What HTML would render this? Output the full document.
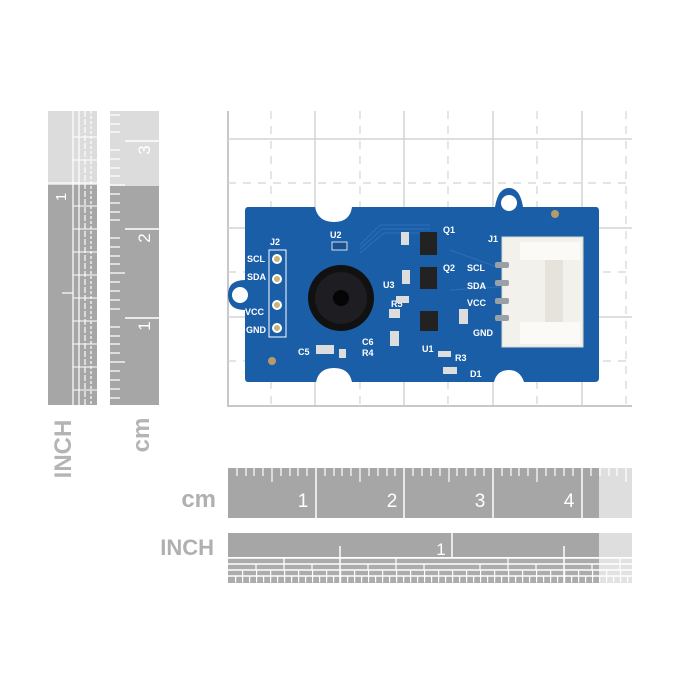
<!DOCTYPE html>
<html><head><style>
html,body{margin:0;padding:0;background:#fff;}
svg{display:block;}
text{font-family:"Liberation Sans",sans-serif;}
</style></head><body>
<svg width="700" height="700" viewBox="0 0 700 700" xmlns="http://www.w3.org/2000/svg">
<g stroke="#d4d4d4" stroke-width="1.5">
  <line x1="228" y1="111" x2="228" y2="407" stroke="#c8c8c8" stroke-width="2"/>
  <line x1="228" y1="406" x2="632" y2="406" stroke="#c8c8c8" stroke-width="2"/>
  <line x1="315" y1="111" x2="315" y2="405"/>
  <line x1="404" y1="111" x2="404" y2="405"/>
  <line x1="493" y1="111" x2="493" y2="405"/>
  <line x1="582" y1="111" x2="582" y2="405"/>
  <line x1="228" y1="139" x2="632" y2="139"/>
  <line x1="228" y1="228" x2="632" y2="228"/>
  <line x1="228" y1="317" x2="632" y2="317"/>
</g>
<g stroke="#d4d4d4" stroke-width="1.2" stroke-dasharray="8 7">
  <line x1="271" y1="111" x2="271" y2="405"/>
  <line x1="360" y1="111" x2="360" y2="405"/>
  <line x1="448" y1="111" x2="448" y2="405"/>
  <line x1="537" y1="111" x2="537" y2="405"/>
  <line x1="626" y1="111" x2="626" y2="405"/>
  <line x1="228" y1="183" x2="632" y2="183"/>
  <line x1="228" y1="272" x2="632" y2="272"/>
  <line x1="228" y1="361" x2="632" y2="361"/>
</g>
<g>
  <path d="M248 207 L315 207 Q318 222 334 222 Q350 222 352 207 L495 207 Q498 188 509 188 Q520 188 523 207 L596 207 Q599 207 599 211 L599 378 Q599 382 595 382 L524 382 Q520 370 509 370 Q497 370 494 382 L352 382 Q349 368 334 368 Q319 368 316 382 L248 382 Q245 382 245 378 L245 310 Q228 310 228 295 Q228 280 245 280 L245 211 Q245 207 248 207 Z" fill="#1b5ea8"/>
  <circle cx="509" cy="203" r="8" fill="#fff"/>
  <circle cx="240" cy="295" r="8" fill="#fff"/>
  <circle cx="555" cy="214" r="4" fill="#b89a6a"/>
  <circle cx="272" cy="361" r="4" fill="#b89a6a"/>
  <g stroke="#2a6cb6" stroke-width="1.2" fill="none">
    <path d="M360 245 L380 225 L430 225"/><path d="M360 249 L382 229 L430 229"/><path d="M360 253 L384 233 L430 233"/>
    <path d="M450 250 L500 268"/><path d="M450 290 L500 287"/>
  </g>
  <rect x="269" y="250" width="17" height="87" fill="none" stroke="#fff" stroke-width="1"/>
  <g fill="#c8b37a" stroke="#fff" stroke-width="2">
    <circle cx="277" cy="259" r="4"/><circle cx="277" cy="279" r="4"/><circle cx="277" cy="305" r="4"/><circle cx="277" cy="328" r="4"/>
  </g>
  <g fill="#fff" font-size="9" font-weight="bold">
    <text x="270" y="245">J2</text>
    <text x="247" y="262">SCL</text><text x="247" y="280">SDA</text><text x="245" y="315">VCC</text><text x="246" y="333">GND</text>
    <text x="330" y="238">U2</text>
    <text x="488" y="242">J1</text>
    <text x="467" y="271">SCL</text><text x="467" y="289">SDA</text><text x="467" y="306">VCC</text><text x="473" y="336">GND</text>
    <text x="443" y="233">Q1</text><text x="443" y="271">Q2</text>
    <text x="383" y="288">U3</text><text x="391" y="307">R5</text>
    <text x="298" y="355">C5</text><text x="362" y="345">C6</text><text x="362" y="356">R4</text>
    <text x="422" y="352">U1</text><text x="455" y="361">R3</text><text x="470" y="377">D1</text>
  </g>
  <rect x="332" y="242" width="15" height="8" fill="#1a4f90" stroke="#fff" stroke-width="0.8"/>
  <circle cx="341" cy="298" r="33" fill="#111"/>
  <circle cx="341" cy="298" r="26" fill="#1d1d22"/>
  <circle cx="341" cy="298" r="8" fill="#050505"/>
  <rect x="420" y="232" width="17" height="23" fill="#222"/>
  <rect x="420" y="267" width="17" height="22" fill="#222"/>
  <rect x="420" y="311" width="18" height="20" fill="#222"/>
  <g fill="#ddd"><rect x="401" y="232" width="8" height="13"/><rect x="402" y="270" width="8" height="14"/><rect x="396" y="296" width="13" height="7"/>
  <rect x="389" y="309" width="11" height="9"/><rect x="390" y="331" width="9" height="15"/><rect x="459" y="309" width="9" height="15"/>
  <rect x="316" y="345" width="18" height="9"/><rect x="438" y="351" width="13" height="6"/><rect x="443" y="367" width="14" height="7"/><rect x="339" y="349" width="7" height="9"/></g>
  <rect x="502" y="237" width="81" height="110" fill="#f3f1ec" stroke="#d9d6cf"/>
  <rect x="520" y="242" width="60" height="18" fill="#fbfaf7"/>
  <rect x="520" y="322" width="60" height="22" fill="#fbfaf7"/>
  <rect x="545" y="260" width="18" height="62" fill="#e6e3dc"/>
  <g fill="#9aa0a8"><rect x="495" y="262" width="14" height="6" rx="2"/><rect x="495" y="280" width="14" height="6" rx="2"/><rect x="495" y="298" width="14" height="6" rx="2"/><rect x="495" y="315" width="14" height="6" rx="2"/></g>
</g>
<!-- left INCH ruler -->
<rect x="48" y="111" width="49" height="74" fill="#dcdcdc"/>
<rect x="48" y="185" width="49" height="220" fill="#a6a6a6"/>
<g stroke="#fff" stroke-width="1.2">
  <line x1="73" y1="111" x2="73" y2="405"/><line x1="79" y1="111" x2="79" y2="405"/>
  <line x1="48" y1="183" x2="97" y2="183"/><line x1="62" y1="293" x2="73" y2="293"/>
</g>
<g stroke="#fff" stroke-width="1.2" stroke-dasharray="6 2">
  <line x1="85" y1="111" x2="85" y2="405"/>
</g>
<g stroke="#fff" stroke-width="1.2" stroke-dasharray="3 2">
  <line x1="91" y1="111" x2="91" y2="405"/>
</g>
<path d="M73 137 h24 M73 160 h24 M73 206 h24 M73 229 h24 M73 252 h24 M73 275 h24 M73 298 h24 M73 321 h24 M73 344 h24 M73 367 h24 M73 390 h24" stroke="#fff" stroke-width="1"/>
<text transform="translate(66,197) rotate(-90)" fill="#fff" font-size="15" text-anchor="middle">1</text>
<!-- left cm ruler -->
<rect x="110" y="111" width="49" height="75" fill="#dcdcdc"/>
<rect x="110" y="186" width="49" height="219" fill="#a6a6a6"/>
<g stroke="#fff" stroke-width="1.5">
  <line x1="125" y1="141" x2="159" y2="141"/><line x1="125" y1="229" x2="159" y2="229"/><line x1="125" y1="318" x2="159" y2="318"/>
</g>
<path d="M110 115 h10 M110 124 h10 M110 132 h10 M110 150 h10 M110 159 h10 M110 168 h10 M110 176 h10 M110 185 h15 M110 194 h10 M110 203 h10 M110 212 h10 M110 220 h10 M110 238 h10 M110 247 h10 M110 256 h10 M110 264 h10 M110 273 h15 M110 282 h10 M110 291 h10 M110 300 h10 M110 309 h10 M110 327 h10 M110 336 h10 M110 344 h10 M110 353 h10 M110 362 h15 M110 371 h10 M110 380 h10 M110 389 h10 M110 398 h10" stroke="#fff" stroke-width="1.2"/>
<g fill="#fff" font-size="17" text-anchor="middle">
  <text transform="translate(150,150) rotate(-90)">3</text>
  <text transform="translate(150,238) rotate(-90)">2</text>
  <text transform="translate(150,326) rotate(-90)">1</text>
</g>
<text transform="translate(71,449) rotate(-90)" fill="#b4b4b4" font-size="24" font-weight="bold" text-anchor="middle">INCH</text>
<text transform="translate(149,435) rotate(-90)" fill="#b4b4b4" font-size="24" font-weight="bold" text-anchor="middle">cm</text>
<!-- bottom cm ruler -->
<rect x="228" y="468" width="371" height="50" fill="#a6a6a6"/>
<rect x="599" y="468" width="33" height="50" fill="#dedede"/>
<g stroke="#fff" stroke-width="1.5"><line x1="316" y1="468" x2="316" y2="518"/><line x1="404" y1="468" x2="404" y2="518"/><line x1="493" y1="468" x2="493" y2="518"/><line x1="582" y1="468" x2="582" y2="518"/></g>
<path d="M237 468 v8 M246 468 v8 M254 468 v8 M263 468 v8 M272 468 v14 M281 468 v8 M290 468 v8 M298 468 v8 M307 468 v8 M325 468 v8 M334 468 v8 M342 468 v8 M351 468 v8 M360 468 v14 M369 468 v8 M378 468 v8 M387 468 v8 M395 468 v8 M413 468 v8 M422 468 v8 M431 468 v8 M440 468 v8 M449 468 v14 M457 468 v8 M466 468 v8 M475 468 v8 M484 468 v8 M502 468 v8 M511 468 v8 M519 468 v8 M528 468 v8 M537 468 v14 M546 468 v8 M555 468 v8 M564 468 v8 M573 468 v8 M591 468 v8 M600 468 v8 M609 468 v8 M617 468 v8 M626 468 v14" stroke="#fff" stroke-width="1.2"/>
<g fill="#fff" font-size="19" text-anchor="middle"><text x="303" y="507">1</text><text x="392" y="507">2</text><text x="480" y="507">3</text><text x="569" y="507">4</text></g>
<text x="216" y="507" fill="#b0b0b0" font-size="24" font-weight="bold" text-anchor="end">cm</text>
<!-- bottom INCH ruler -->
<rect x="228" y="533" width="371" height="24" fill="#a6a6a6"/>
<rect x="599" y="533" width="33" height="24" fill="#dedede"/>
<rect x="228" y="558" width="371" height="25" fill="#acacac"/>
<rect x="599" y="558" width="33" height="25" fill="#e2e2e2"/>
<g stroke="#fff" stroke-width="1.5"><line x1="452" y1="533" x2="452" y2="557"/><line x1="340" y1="546" x2="340" y2="583"/><line x1="564" y1="546" x2="564" y2="583"/>
<line x1="228" y1="558" x2="632" y2="558"/><line x1="228" y1="564" x2="632" y2="564"/><line x1="228" y1="570" x2="632" y2="570"/><line x1="228" y1="576" x2="632" y2="576"/></g>
<g stroke="#fff" stroke-width="1.2">
  <line x1="284" y1="558" x2="284" y2="564" stroke-dasharray="0"/>
</g>
<path d="M284 558 v6 M396 558 v6 M508 558 v6 M620 558 v6" stroke="#fff" stroke-width="1.2"/>
<path d="M256 564 v6 M284 564 v6 M312 564 v6 M368 564 v6 M396 564 v6 M424 564 v6 M480 564 v6 M508 564 v6 M536 564 v6 M592 564 v6 M620 564 v6" stroke="#fff" stroke-width="1.2"/>
<g stroke="#fff" stroke-width="1.2" stroke-dasharray="1.2 12.8"><line x1="242" y1="573" x2="632" y2="573" stroke-width="6"/></g>
<g stroke="#fff" stroke-width="6" stroke-dasharray="1.2 5.8"><line x1="235" y1="579.5" x2="632" y2="579.5"/></g>
<text x="441" y="555" fill="#fff" font-size="17" text-anchor="middle">1</text>
<text x="214" y="555" fill="#b0b0b0" font-size="22" font-weight="bold" text-anchor="end">INCH</text>
</svg>
</body></html>
